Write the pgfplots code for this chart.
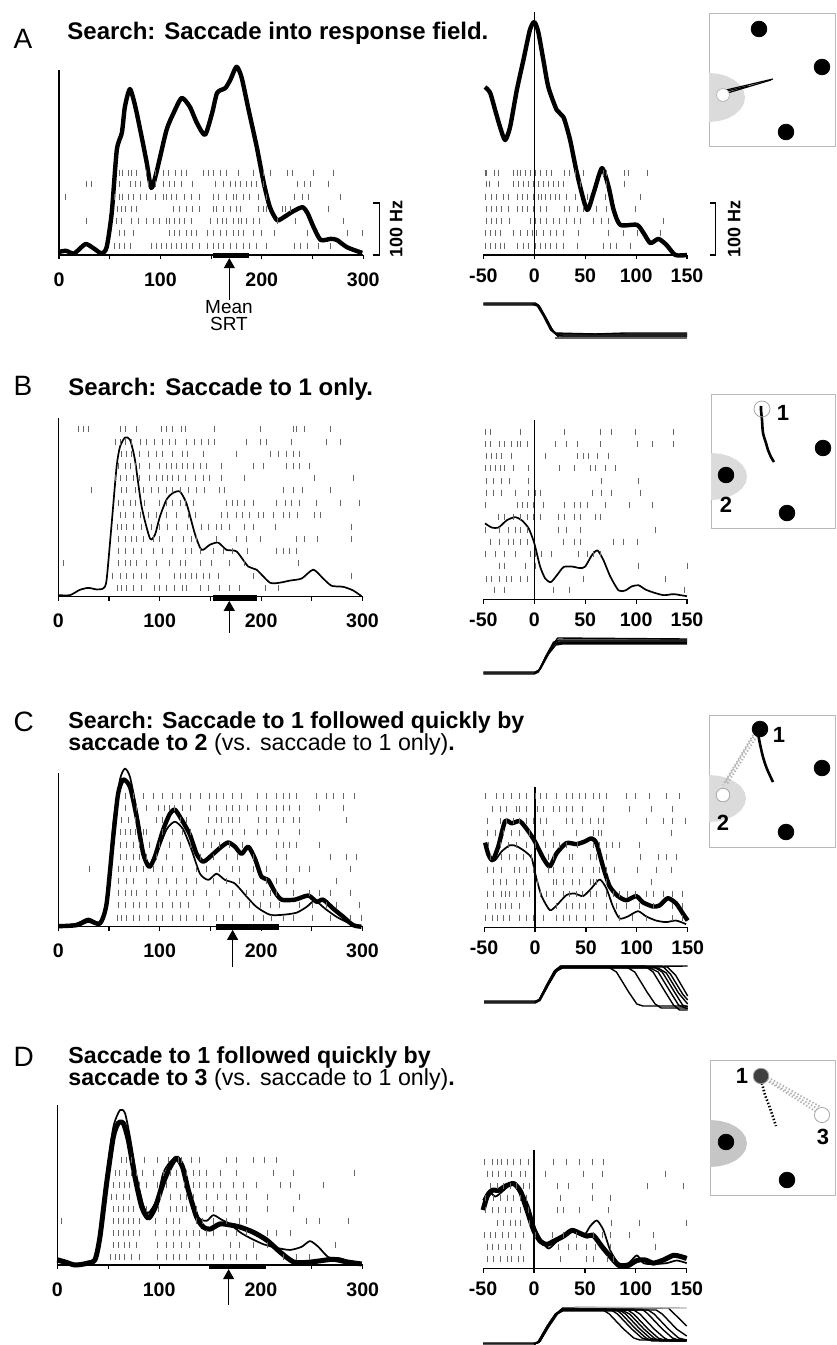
\documentclass[border=0pt]{standalone}
\usepackage{fontspec}
\setmainfont{Liberation Sans}
\usepackage{pgfplots}
\pgfplotsset{compat=1.18}
\usetikzlibrary{arrows.meta}

% one raster row: #1 = row height (Hz), #2 = spike times (ms)
\newcommand\spikes[2]{%
  \gdef\spklist{}%
  \foreach \t in {#2}{\xdef\spklist{\spklist (\t,#1)}}%
  \edef\spkcmd{\noexpand\addplot[raster] coordinates {\spklist};}%
  \spkcmd}

\pgfplotsset{
  pbase/.style={anchor=origin, clip=false, y=0.26pt, ymin=0, ytick=\empty,
    axis x line=bottom,
    tick align=outside, major tick length=2.2pt,
    xtick style={line width=0.6pt, black},
    /pgf/number format/assume math mode=true,
    tick label style={font=\bfseries\fontsize{9.8}{10}\selectfont}},
  pleft/.style={pbase, axis y line=left, axis line style={-, line width=0.6pt},
    x=0.507pt, xmin=0, xmax=300,
    xtick={0,50,100,150,200,250,300}, xticklabels={0,,100,,200,,300},
    xticklabel style={anchor=base, yshift=-13.3pt}},
  pmid/.style={pbase, axis y line=none, axis line style={-, line width=0.6pt},
    x=0.509pt, xmin=-50, xmax=150,
    xtick={-50,0,50,100,150}, xticklabels={-50,0,50,100,150},
    xticklabel style={anchor=base, yshift=-11.3pt}},
  peye/.style={anchor=origin, hide axis, x=0.509pt, y=0.5pt, xmin=-50, xmax=150,
    ymin=-15, ymax=40, clip=false},
  pschem/.style={anchor=origin, x=0.5pt, y=0.5pt, xmin=0, ymin=0,
    xtick=\empty, ytick=\empty, axis line style={gray!55, line width=0.5pt}, clip=false},
  raster/.style={only marks, mark=|, mark size=1.5pt, black!60,
    mark options={line width=0.45pt, draw=black!60}},
  thk/.style={black, line width=2.2pt, line join=round, no marks, smooth, tension=0.4},
  thn/.style={black, line width=0.85pt, line join=round, no marks, smooth, tension=0.4},
  eye/.style={black, line width=0.7pt, no marks, line join=round},
  dot/.style={only marks, mark=*, mark size=3.9pt, black},
  srt/.style={black, line width=2.8pt, no marks},
}
\tikzset{srtarrow/.style={-{Triangle[width=5.5pt,length=5pt]}, line width=0.5pt},
  ttl/.style={anchor=base west, inner sep=0pt, font=\bfseries\fontsize{12}{12}\selectfont},
  ttl2/.style={anchor=base west, inner sep=0pt, font=\bfseries\fontsize{11.6}{11.6}\selectfont},
  ltr/.style={anchor=base west, inner sep=0pt, font=\fontsize{14}{14}\selectfont},
  num/.style={font=\bfseries\fontsize{11}{11}\selectfont}}

\begin{document}
\begin{tikzpicture}
\useasboundingbox (0,0) rectangle (418pt,-672.5pt);

% ---------------- titles
\node[ltr] at (6.6pt,-24.2pt) {A};
\node[ttl] at (33.5pt,-19.7pt) {Search: Saccade into response field.};
\node[ltr] at (6.6pt,-197.5pt) {B};
\node[ttl] at (34pt,-197.5pt) {Search: Saccade to 1 only.};
\node[ltr] at (6.6pt,-365.5pt) {C};
\node[ttl2] at (34pt,-364pt) {Search: Saccade to 1 followed quickly by};
\node[ttl2] at (34pt,-375pt) {saccade to 2 \mdseries(vs. saccade to 1 only)\bfseries.};
\node[ltr] at (6.6pt,-533pt) {D};
\node[ttl2] at (34pt,-531.5pt) {Saccade to 1 followed quickly by};
\node[ttl2] at (34pt,-542.5pt) {saccade to 3 \mdseries(vs. saccade to 1 only)\bfseries.};

% ================= A =================
\begin{axis}[pleft, at={(29.5pt,-127.5pt)}, ymax=356]
\spikes{158}{60,63,68,71,76,86,95,103,108,115,121,126,142,147,152,159,165,177,192,202,209,225,230,251,271}
\spikes{137}{27,32,60,70,75,80,88,95,103,109,114,121,132,154,162,169,174,179,185,190,195,202,235,242,248,266}
\spikes{112}{6,55,60,63,68,73,80,86,95,103,106,111,116,124,131,139,152,157,165,172,175,182,188,197,205,232,240,246,278}
\spikes{88}{58,62,66,71,76,113,119,126,132,139,152,155,162,169,175,179,197,202,205,220,223,228,266}
\spikes{65}{27,57,62,71,78,86,93,99,106,109,114,119,124,131,149,156,161,165,172,177,180,185,192,198,215,233,281}
\spikes{42}{60,65,73,109,114,119,126,131,136,146,152,159,165,172,177,182,192,200,212,245,284,299}
\spikes{17}{55,60,65,70,91,96,101,106,111,116,121,126,132,139,146,152,157,162,169,175,182,188,195,205,232,238,245,256,268}
\addplot[thk] coordinates {(0,6) (7,8) (15,3) (26,21) (34,13) (42,3) (47,15) (52,81) (57,202) (62,235) (65,285) (70,319) (76,279) (86,183) (91,129) (96,158) (106,240) (113,273) (121,302) (129,285) (136,254) (144,231) (151,273) (156,312) (164,321) (169,337) (175,362) (180,342) (187,279) (195,208) (202,138) (208,92) (215,67) (222,73) (230,83) (240,92) (245,81) (251,54) (258,29) (268,31) (274,29) (284,15) (299,4)};
\addplot[srt] coordinates {(152,-1) (187,-1)};
\draw[srtarrow] (axis cs:168,-87) -- (axis cs:168,-6);
\draw[line width=0.6pt] (axis cs:310,100) -- (axis cs:316,100) -- (axis cs:316,0) -- (axis cs:310,0);
\node[rotate=90, font=\bfseries\fontsize{9}{9}\selectfont] at (axis cs:332.6,50) {100 Hz};
\end{axis}
\node[anchor=base, font=\fontsize{9.5}{9.5}\selectfont] at (114.5pt,-156.5pt) {Mean};
\node[anchor=base, font=\fontsize{9.5}{9.5}\selectfont] at (114.5pt,-165pt) {SRT};

\begin{axis}[pmid, at={(267.15pt,-127.5pt)}, ymax=467]
\spikes{158}{-48,-47,-39,-35,-20,-17,-14,-9,-4,1,6,12,17,30,35,40,48,68,71,89,92,111}
\spikes{137}{-47,-44,-35,-20,-16,-11,-6,-1,4,9,14,19,24,29,45,71,89}
\spikes{112}{-48,-42,-37,-30,-25,-17,-12,-7,-1,4,7,11,16,21,25,32,40,52,70,104}
\spikes{88}{-47,-42,-37,-32,-25,-17,-12,-7,-1,6,12,30,35,42,48,61,71,99}
\spikes{65}{-47,-42,-37,-32,-24,-4,1,6,12,19,25,32,39,45,58,66,73,127}
\spikes{42}{-48,-43,-38,-33,-20,-14,-7,-2,2,9,16,22,29,43,73,88,101,124}
\spikes{17}{-48,-43,-38,-33,-29,-17,-11,-6,1,6,11,16,22,29,42,68,75,81,94}
\addplot[black, line width=0.6pt] coordinates {(0,0) (0,467)};
\addplot[thk] coordinates {(-48.4,323) (-43.4,312) (-38.5,279) (-33.6,246) (-28.7,221) (-23.8,246) (-17.2,317) (-10.7,375) (-4.3,433) (0,448) (3.9,429) (8.9,375) (13.8,323) (22,279) (28.7,265) (35.2,221) (41.8,158) (51.6,87) (58.2,119) (66.4,167) (73,131) (77.9,87) (84.4,58) (100.8,58) (107.4,42) (114,23) (122,31) (130,19) (138.5,0) (150,0)};
\draw[line width=0.6pt] (axis cs:172.8,100) -- (axis cs:177.7,100) -- (axis cs:177.7,0) -- (axis cs:172.8,0);
\node[rotate=90, font=\bfseries\fontsize{9}{9}\selectfont] at (axis cs:196.4,50) {100 Hz};
\end{axis}

\begin{axis}[peye, at={(267.15pt,-167.5pt)}]
\addplot[eye] coordinates {(-50,31) (0,31) (3,30) (10,19) (17,6) (22,1) (26,0) (150,0)};
\addplot[eye] coordinates {(-50,32) (1,32) (4,30) (11,18) (18,4) (23,0) (28,-1) (150,-1)};
\addplot[eye] coordinates {(-50,30) (0,30) (3,29) (9,19) (16,5) (21,1) (25,1) (150,1)};
\addplot[eye] coordinates {(-2,31) (5,29) (12,16) (19,3) (24,-2) (150,-2)};
\addplot[eye] coordinates {(20,2) (60,1) (90,2) (150,2)};
\addplot[eye, black!60] coordinates {(20,-3) (150,-3)};
\end{axis}

\begin{axis}[pschem, at={(354.5pt,-73pt)}, xmax=126, ymax=133]
\addplot[fill=gray!28, draw=none] coordinates {(0,24) (9.3,24.8) (18,27.3) (25.5,31.2) (31.2,36.3) (34.8,42.2) (36,48.5) (34.8,54.8) (31.2,60.8) (25.5,65.8) (18,69.7) (9.3,72.2) (0,73)};
\addplot[dot] coordinates {(50,117) (113,79) (77,14)};
\addplot[only marks, mark=*, mark size=3.2pt, mark options={fill=white, draw=gray!70, line width=0.3pt}] coordinates {(14,51)};
\addplot[eye, line width=0.6pt] coordinates {(13,55) (64,67)};
\addplot[eye, line width=0.6pt] coordinates {(15,52) (62,66)};
\addplot[eye, line width=0.6pt] coordinates {(14,54) (40,60)};
\addplot[eye, line width=1.2pt] coordinates {(16,50) (18,53)};
\end{axis}

% ================= B =================
\begin{axis}[pleft, at={(29.15pt,-298.35pt)}, ymax=344]
\spikes{322}{20,25,30,61,66,77,102,107,113,121,125,154,199,232,235,243,268}
\spikes{298}{56,61,66,72,81,87,95,103,110,116,126,134,141,148,154,186,199,205,230,264,278}
\spikes{275}{62,67,72,80,89,97,103,113,122,127,143,176,209,217,225,232,238}
\spikes{252}{59,66,71,76,80,90,100,107,112,117,122,127,133,140,146,161,192,202,225,232,238,248}
\spikes{228}{56,61,67,74,80,90,97,103,108,113,118,125,135,143,149,161,184,253,291}
\spikes{205}{33,62,67,76,84,92,99,107,113,120,128,136,144,159,164,222,232,241,268}
\spikes{181}{59,64,71,76,85,100,107,113,120,125,133,166,172,177,184,192,215,224,230,238,255,278,297}
\spikes{158}{61,66,74,81,89,97,107,117,128,135,161,167,176,182,189,197,202,212,222,228,236,253,259}
\spikes{134}{58,62,67,74,82,92,100,108,117,127,141,148,156,161,169,184,192,214,289}
\spikes{111}{59,66,72,77,84,94,100,113,123,131,136,156,176,186,199,235,243,256,289}
\spikes{87}{59,66,74,82,94,103,113,125,131,140,153,163,172,187,215,222,228,235}
\spikes{64}{5,59,66,71,77,87,97,110,120,125,140,151,169,184,237}
\spikes{40}{53,61,67,74,82,87,100,115,120,125,131,136,143,149,158,192,289}
\spikes{17}{58,62,67,74,82,95,100,107,115,122,126,140,148,159,169,179,204,217}
\addplot[thn] coordinates {(0,3) (11.5,3) (21,13) (29.6,17) (37.8,14) (44.4,16) (47.6,32) (52.6,140) (57.5,250) (60.8,288) (65.7,306) (70.7,302) (75.6,263) (82.2,173) (90.4,112) (95.3,119) (100.2,154) (106.8,187) (113.4,200) (120,202) (126.5,179) (134.7,121) (141.3,90) (149.5,100) (157.7,104) (166,90) (175.8,87) (187.3,58) (195.5,52) (208.7,27) (218.5,27) (228.4,31) (240,35) (251.4,52) (261.2,35) (269.5,21) (281,19) (290.8,12) (299,1)};
\addplot[srt] coordinates {(153,-2.5) (196,-2.5)};
\draw[srtarrow] (axis cs:168.6,-70) -- (axis cs:168.6,-8);
\end{axis}

\begin{axis}[pmid, at={(267.15pt,-299.65pt)}, ymax=345]
\spikes{322}{-48,-43,-14,30,65,76,99,137}
\spikes{298}{-48,-43,-34,-29,-22,-17,-14,-7,21,32,42,65,101,116,137}
\spikes{275}{-47,-42,-37,-32,-22,11,42,48,53,62,73}
\spikes{252}{-48,-43,-38,-33,-29,-20,-6,25,39,55,60,70,80}
\spikes{228}{-47,-40,-32,-24,-6,66,102}
\spikes{205}{-47,-40,-32,-19,-6,1,6,57,66,76,104}
\spikes{181}{-48,-17,-12,-7,-1,9,30,39,45,52,70,93,116}
\spikes{158}{-35,-29,-20,-14,-7,-1,6,24,30,39,45,60,65}
\spikes{134}{-48,-34,-25,-19,-14,-7,24,32,45,119}
\spikes{111}{-43,-34,-25,-20,-14,-7,29,39,45,78,88,101}
\spikes{87}{-48,-38,-29,-19,-4,1,7,17,43,52,58,65}
\spikes{64}{-34,-29,-9,1,102,150}
\spikes{40}{-47,-42,-34,-27,-22,-14,-7,48,129}
\spikes{17}{-39,-29,19,35,147}
\addplot[black, line width=0.6pt] coordinates {(0,0) (0,345)};
\addplot[thn] coordinates {(-48.4,146) (-41.8,138) (-35.2,138) (-27,152) (-18.9,158) (-12.3,152) (-5.7,137) (-0.8,113) (1.8,94) (5.7,63) (10.7,40) (16.2,33) (22.1,46) (28.7,62) (36.9,63) (45.1,60) (50,63) (56.6,85) (62.1,94) (68,75) (74.6,44) (82.8,17) (89.4,17) (95.9,25) (102.5,27) (109,19) (117.2,13) (127.1,8) (136.9,10) (143.5,8) (150,6)};
\end{axis}

\begin{axis}[peye, at={(267.15pt,-336.5pt)}]
\addplot[eye] coordinates {(-50,0) (0,0) (4,2) (12,17) (19,29) (24,33) (150,33)};
\addplot[eye] coordinates {(-50,1) (1,1) (5,3) (13,18) (20,29) (26,31) (150,31)};
\addplot[eye] coordinates {(-50,-1) (0,-1) (4,1) (11,16) (18,28) (23,35) (150,34)};
\addplot[eye] coordinates {(0,0) (6,4) (14,19) (21,28) (27,29) (150,29)};
\addplot[eye] coordinates {(0,0) (5,3) (12,18) (19,31) (23,32) (150,32)};
\addplot[eye] coordinates {(22,30) (150,30)};
\end{axis}

\begin{axis}[pschem, at={(355.5pt,-264pt)}, xmax=124, ymax=134]
\addplot[fill=gray!28, draw=none] coordinates {(0,28) (9.3,28.8) (18,31.2) (25.5,34.9) (31.2,39.8) (34.8,45.4) (36,51.5) (34.8,57.6) (31.2,63.3) (25.5,68.1) (18,71.9) (9.3,74.2) (0,75)};
\addplot[dot] coordinates {(112,80) (15,53) (76,15)};
\addplot[only marks, mark=o, mark size=4pt, mark options={draw=gray!70, line width=0.4pt}] coordinates {(51,119)};
\addplot[eye, line width=1.3pt, smooth] coordinates {(50,122) (50,118) (51,108) (52,95) (55,85) (57,78) (60,71) (63,66)};
\node[num] at (axis cs:72,115) {1};
\node[num] at (axis cs:15,23) {2};
\end{axis}

% ================= C =================
\begin{axis}[pleft, at={(29.15pt,-463.35pt)}, ymax=296]
\spikes{252}{66,74,84,94,103,113,120,130,140,149,156,163,172,181,196,205,215,222,228,235,255,264,271,281,292}
\spikes{228}{66,77,87,99,105,110,115,122,130,149,156,166,172,179,187,195,205,215,222,228,238,258,281}
\spikes{205}{62,69,76,97,103,120,126,148,156,161,168,172,179,197,205,215,222,232,238,284}
\spikes{182}{61,66,71,76,84,87,103,113,122,130,146,154,162,172,184,196,205,217,238}
\spikes{158}{61,67,74,80,90,100,110,120,130,143,151,159,169,182,215,222,228,235,258}
\spikes{135}{61,67,74,80,87,97,107,122,140,153,166,177,192,215,225,268,284,294}
\spikes{111}{31,59,64,71,77,84,94,103,113,122,136,146,159,172,179,192,205,225,238,248,288}
\spikes{88}{59,67,74,87,99,107,117,126,136,153,166,179,192,205,215,225,232,274}
\spikes{64}{59,66,72,77,87,97,110,117,126,133,146,159,172,186,192,202,209,215,232,248,258,268,288}
\spikes{41}{59,66,74,80,87,97,103,113,120,128,149,169,179,189,199,209,218,238,251,264,274,297}
\spikes{17}{58,62,67,74,80,89,97,103,113,120,126,136,143,156,163,172,192,202,210,222,232,251,268,288,299}
\addplot[thn] coordinates {(0,1) (18,6) (29.6,16) (41,8) (47.6,44) (54.2,198) (60.8,283) (65.7,304) (70.7,288) (77.2,225) (83.8,148) (89.7,117) (97,140) (106.8,187) (115,202) (123.2,187) (131.4,148) (139.7,102) (148,90) (156,102) (164.3,90) (174.2,83) (185.7,58) (195.5,38) (208.7,23) (221.8,23) (235,27) (244.8,38) (253,50) (262.9,35) (274.4,19) (287.5,6) (297.4,0)};
\addplot[thk] coordinates {(0,1) (18,3) (29.6,12) (41,6) (47.6,44) (54.2,173) (59,256) (64,283) (70.7,269) (77.2,212) (83.8,140) (89.7,115) (95.3,135) (103.5,187) (110,217) (115,225) (121.6,206) (129.8,177) (136.4,140) (143,125) (152.8,140) (161,154) (167.6,162) (174.2,154) (180.7,140) (187.3,154) (193.9,131) (200.4,96) (207,90) (213.6,67) (220.2,52) (233.3,52) (246.5,60) (254.7,48) (261.2,52) (271,35) (281,19) (290.8,3) (299,0)};
\addplot[srt] coordinates {(155.4,0) (218,0)};
\draw[srtarrow] (axis cs:171.9,-77) -- (axis cs:171.9,-6);
\end{axis}

\begin{axis}[pmid, at={(267.5pt,-463.65pt)}, ymax=270]
\spikes{252}{-49,-38,-31,-23,-15,-8,0,5,11,21,31,37,44,50,57,63,70,90,99,112,129,142}
\spikes{228}{-42,-34,-28,-18,-15,-8,2,8,18,24,31,37,47,67,93,114,135}
\spikes{205}{-47,-34,-28,-21,-15,-8,-2,5,11,31,37,47,54,62,67,109,126,135,148}
\spikes{182}{-47,-39,-31,-23,-15,-5,8,18,41,57,62,65,134}
\spikes{158}{-46,-34,-26,-18,-8,0,10,18,24,31,42,57,63,70,76,83,103}
\spikes{135}{-44,-33,-25,-18,-11,-3,13,18,34,37,54,60,70,104,121,129,139}
\spikes{111}{-47,-41,-33,-20,-15,-8,-2,13,18,28,37,47,57,63,70,78,101,119,134}
\spikes{88}{-41,-34,-28,-18,-11,2,18,21,28,37,44,54,57,60,70,114}
\spikes{64}{-47,-41,-33,-29,-25,-18,-11,-5,5,11,18,28,34,41,47,54,60,70,77,83,91,99,109,116,126,135,145}
\spikes{41}{-47,-39,-34,-29,-23,-15,21,31,37,44,50,57,70,80,90,103,116,135,145}
\spikes{17}{-49,-42,-37,-31,-25,-15,-8,-2,8,21,28,34,41,50,57,70,83,96,109,135,145}
\addplot[black, line width=0.6pt] coordinates {(0,0) (0,270)};
\addplot[thn] coordinates {(-49,158) (-44.1,133) (-39.2,129) (-32.7,146) (-24.5,158) (-18,156) (-9.9,146) (-3.3,133) (0.9,98) (6.5,60) (14.6,33) (21.1,42) (30.9,62) (39,65) (47.2,60) (55.4,75) (63.5,92) (70.1,75) (76.6,40) (83.1,17) (91.3,21) (101.1,31) (109.2,21) (119,13) (128.8,10) (138.6,13) (148.4,6)};
\addplot[thk] coordinates {(-49,163) (-45.8,140) (-41.5,129) (-36,156) (-29.4,204) (-22.9,200) (-14.8,204) (-6.6,185) (-0.1,165) (8.1,133) (14.6,117) (21.1,142) (30.9,162) (40.7,160) (48.9,165) (55.4,171) (60.3,162) (66.8,117) (73.3,79) (81.5,60) (89.7,52) (99.4,60) (106,48) (115.8,40) (122.3,42) (130.4,56) (138.6,46) (145.1,27) (150,13)};
\end{axis}

\begin{axis}[peye, at={(267.5pt,-501pt)}]
\addplot[eye] coordinates {(-50,0) (0,0) (4,2) (12,17) (20,31) (26,35) (72,35) (80,30) (92,10) (100,-2) (106,-4) (150,-4)};
\addplot[eye] coordinates {(-50,1) (1,1) (5,3) (13,18) (21,31) (27,35) (90,35) (98,30) (110,10) (118,-2) (124,-6) (150,-6)};
\addplot[eye] coordinates {(-50,-1) (0,-1) (4,1) (11,16) (19,31) (25,36) (108,36) (116,30) (128,10) (136,-3) (142,-8) (150,-8)};
\addplot[eye] coordinates {(0,0) (5,2) (13,17) (21,31) (27,34) (113,34) (121,30) (133,10) (141,-3) (150,-7)};
\addplot[eye] coordinates {(0,0) (4,2) (12,18) (20,32) (25,35) (117,35) (125,30) (137,10) (145,-3) (150,-5)};
\addplot[eye] coordinates {(0,0) (5,3) (13,18) (20,30) (26,34) (121,34) (129,29) (141,9) (150,-2)};
\addplot[eye] coordinates {(0,0) (4,2) (12,17) (20,31) (26,36) (125,36) (133,28) (145,8) (150,2)};
\addplot[eye] coordinates {(0,0) (5,2) (13,17) (21,31) (27,35) (130,35) (138,27) (150,6)};
\addplot[eye] coordinates {(0,0) (4,2) (12,17) (20,31) (26,35) (150,36)};
\end{axis}

\begin{axis}[pschem, at={(354.5pt,-423.5pt)}, xmax=126, ymax=132]
\addplot[fill=gray!28, draw=none] coordinates {(0,25) (9.6,25.8) (18.5,28.2) (26.2,31.9) (32,36.8) (35.7,42.4) (37,48.5) (35.7,54.6) (32,60.3) (26.2,65.1) (18.5,68.9) (9.6,71.2) (0,72)};
\addplot[dot] coordinates {(51,118) (113,79) (77,15)};
\addplot[only marks, mark=*, mark size=3.4pt, mark options={fill=white, draw=gray!70, line width=0.4pt}] coordinates {(14,52)};
\addplot[eye, gray!60, densely dotted, line width=0.9pt] coordinates {(46,113) (16,64)};
\addplot[eye, gray!60, densely dotted, line width=0.9pt] coordinates {(48,111) (18,63)};
\addplot[eye, gray!60, densely dotted, line width=0.9pt] coordinates {(44,112) (14,62)};
\addplot[eye, line width=1.3pt, smooth] coordinates {(49,114) (51,103) (54,90) (58,78) (64,65)};
\node[num] at (axis cs:70,112) {1};
\node[num] at (axis cs:14,24) {2};
\end{axis}

% ================= D =================
\begin{axis}[pleft, at={(28.65pt,-632.5pt)}, x=0.509pt, ymax=308]
\spikes{201}{63,68,73,86,98,109,119,122,132,140,166,176,193,203,215}
\spikes{177}{57,61,68,73,78,84,94,104,111,117,127,134,140,147,160,176,212,232,292}
\spikes{154}{55,61,66,71,81,88,98,107,117,125,134,140,147,153,160,173,183,196,219,229,261}
\spikes{131}{53,58,65,71,101,111,121,127,134,147,157,166,176,186,206,238}
\spikes{108}{55,60,65,70,75,88,99,111,117,123,127,137,147,153,166,179,186,206,232}
\spikes{84}{4,55,60,65,70,75,81,96,107,114,120,137,143,153,166,179,186,245,258,286}
\spikes{61}{55,60,65,70,75,81,96,107,114,120,127,134,140,147,153,166,176,186,206,215,229}
\spikes{38}{55,60,66,71,78,98,107,114,122,130,140,170,179,193,206,273}
\spikes{15}{52,57,61,66,73,81,98,107,114,120,127,140,147,153,163,170,176,186,196,222,235,248}
\addplot[thn] coordinates {(0,6) (17.4,0) (28.8,6) (37,13) (41.9,54) (48.5,169) (55,265) (61.6,298) (66.5,292) (71.4,246) (78,169) (84.5,115) (89.4,100) (97.6,125) (104.1,177) (110.7,198) (117.2,206) (123.8,183) (130.3,138) (138.5,92) (146.7,85) (153.3,96) (161.5,87) (169.6,79) (179.5,63) (189.3,52) (202.4,40) (215.5,33) (228.6,29) (240,35) (248.2,46) (256.4,35) (266.3,15) (277.7,13) (290.8,4) (299,1)};
\addplot[thk, line width=2.5pt] coordinates {(0,10) (7.5,6) (17.4,0) (28.8,3) (37,10) (41.9,54) (48.5,158) (55,246) (59.9,273) (64.8,273) (69.8,240) (76.3,169) (82.9,112) (89.4,90) (96,110) (104.1,158) (110.7,188) (117.2,206) (123.1,188) (128.7,144) (136.9,92) (143.4,73) (150,69) (159.8,79) (169.6,77) (179.5,73) (192.6,63) (205.7,48) (218.8,25) (231.9,6) (245,5) (258,8) (271.2,11) (284.3,6) (299,2)};
\addplot[srt] coordinates {(150,-3) (205,-3)};
\draw[srtarrow] (axis cs:168.3,-77) -- (axis cs:168.3,-8);
\end{axis}

\begin{axis}[pmid, at={(267pt,-634.15pt)}, ymax=227]
\spikes{205}{-49,-41,-36,-32,-26,-20,-13,-5,19,32,45,57,68}
\spikes{182}{-46,-41,-35,-28,-22,-13,-8,11,49,67,129}
\spikes{158}{-43,-36,-30,-23,-17,-10,-4,23,34,57,111,147}
\spikes{135}{-48,-40,-33,-26,-20,-13,-7,26,57,75}
\spikes{112}{-48,-41,-35,-28,-22,-13,-5,23,29,45,73}
\spikes{88}{-36,-30,-23,-18,-13,-4,76,104,150}
\spikes{65}{-49,-43,-38,-31,-25,-18,-10,1,18,29,42,58,67,75,94,117}
\spikes{41}{-46,-41,-35,-28,-22,-13,24,34,42,52,60,75,119}
\spikes{17}{-46,-40,-33,-26,-22,-15,-10,26,52,58,72,78}
\addplot[black, line width=0.6pt] coordinates {(0,0) (0,227)};
\addplot[thn] coordinates {(-50,131) (-44.4,148) (-37.9,138) (-29.7,150) (-21.6,163) (-13.4,154) (-5.2,119) (1.3,77) (7.8,52) (14.4,38) (22.5,52) (32.4,67) (40.5,71) (48.7,62) (55.2,81) (61.8,92) (68.3,73) (74.8,35) (83,10) (92.8,10) (101,25) (107.5,10) (117.3,8) (130.4,10) (140.2,15) (150,10)};
\addplot[thk, line width=2.5pt] coordinates {(-50,112) (-46.1,138) (-41.2,150) (-34.6,150) (-28.1,158) (-19.9,163) (-13.4,148) (-6.9,112) (-0.3,73) (6.2,52) (12.7,46) (19.3,52) (29.1,62) (37.3,73) (45.4,67) (52,62) (58.5,63) (66.7,42) (74.8,23) (83,6) (91.2,4) (101,15) (109.2,16) (117.3,10) (127.1,16) (136.9,25) (143.5,23) (150,19)};
\end{axis}

\begin{axis}[peye, at={(267pt,-672.5pt)}]
\addplot[eye] coordinates {(-50,1) (0,1) (5,3) (14,19) (22,31) (28,35) (68,35) (74,31) (88,16) (98,7) (104,5) (150,5)};
\addplot[eye] coordinates {(-50,2) (1,2) (6,4) (15,19) (23,31) (29,35) (76,35) (82,31) (96,16) (106,7) (112,5) (150,5)};
\addplot[eye] coordinates {(0,1) (5,3) (14,19) (22,31) (28,36) (80,36) (86,31) (100,16) (110,7) (116,4) (150,4)};
\addplot[eye] coordinates {(0,1) (4,3) (13,19) (21,31) (27,35) (84,35) (90,31) (104,16) (114,7) (120,5) (150,5)};
\addplot[eye] coordinates {(0,1) (5,3) (14,19) (22,31) (28,34) (88,34) (94,31) (108,16) (118,7) (124,4) (150,4)};
\addplot[eye] coordinates {(0,1) (6,4) (15,20) (23,32) (29,35) (92,35) (98,31) (112,16) (122,7) (128,5) (150,5)};
\addplot[eye] coordinates {(0,1) (5,3) (14,19) (22,31) (28,35) (98,35) (104,31) (118,16) (128,7) (134,4) (150,4)};
\addplot[eye] coordinates {(0,1) (5,3) (14,19) (22,31) (28,36) (106,36) (112,31) (126,16) (136,7) (142,5) (150,5)};
\addplot[eye] coordinates {(0,1) (4,3) (13,19) (21,31) (27,35) (112,35) (118,31) (132,16) (142,7) (150,5)};
\addplot[eye] coordinates {(0,1) (5,3) (14,19) (22,31) (28,35) (120,35) (126,31) (140,16) (150,9)};
\addplot[eye] coordinates {(0,1) (5,3) (14,19) (22,31) (28,37) (132,37) (138,31) (150,19)};
\addplot[eye, gray!60] coordinates {(40,38) (150,37)};
\end{axis}

\begin{axis}[pschem, at={(355pt,-597.5pt)}, xmax=125, ymax=135]
\addplot[fill=gray!45, draw=none] coordinates {(0,28) (9.6,28.8) (18.5,31.2) (26.2,34.9) (32,39.8) (35.7,45.4) (37,51.5) (35.7,57.6) (32,63.3) (26.2,68.1) (18.5,71.9) (9.6,74.2) (0,75)};
\addplot[dot] coordinates {(16,53) (77,15)};
\addplot[eye, gray!60, densely dotted, line width=0.9pt] coordinates {(51,119) (115,82)};
\addplot[eye, gray!60, densely dotted, line width=0.9pt] coordinates {(53,117) (113,79)};
\addplot[eye, gray!60, densely dotted, line width=0.9pt] coordinates {(52,121) (116,85)};
\addplot[only marks, mark=*, mark size=3.9pt, mark options={fill=black!75, draw=gray!70, line width=0.4pt}] coordinates {(51,119)};
\addplot[only marks, mark=*, mark size=3.8pt, mark options={fill=white, draw=gray!70, line width=0.4pt}] coordinates {(112,80)};
\addplot[eye, densely dotted, line width=1.3pt] coordinates {(51,115) (55,100) (60,87) (66,69)};
\node[num] at (axis cs:32,119) {1};
\node[num] at (axis cs:113,58) {3};
\end{axis}
\end{tikzpicture}
\end{document}
